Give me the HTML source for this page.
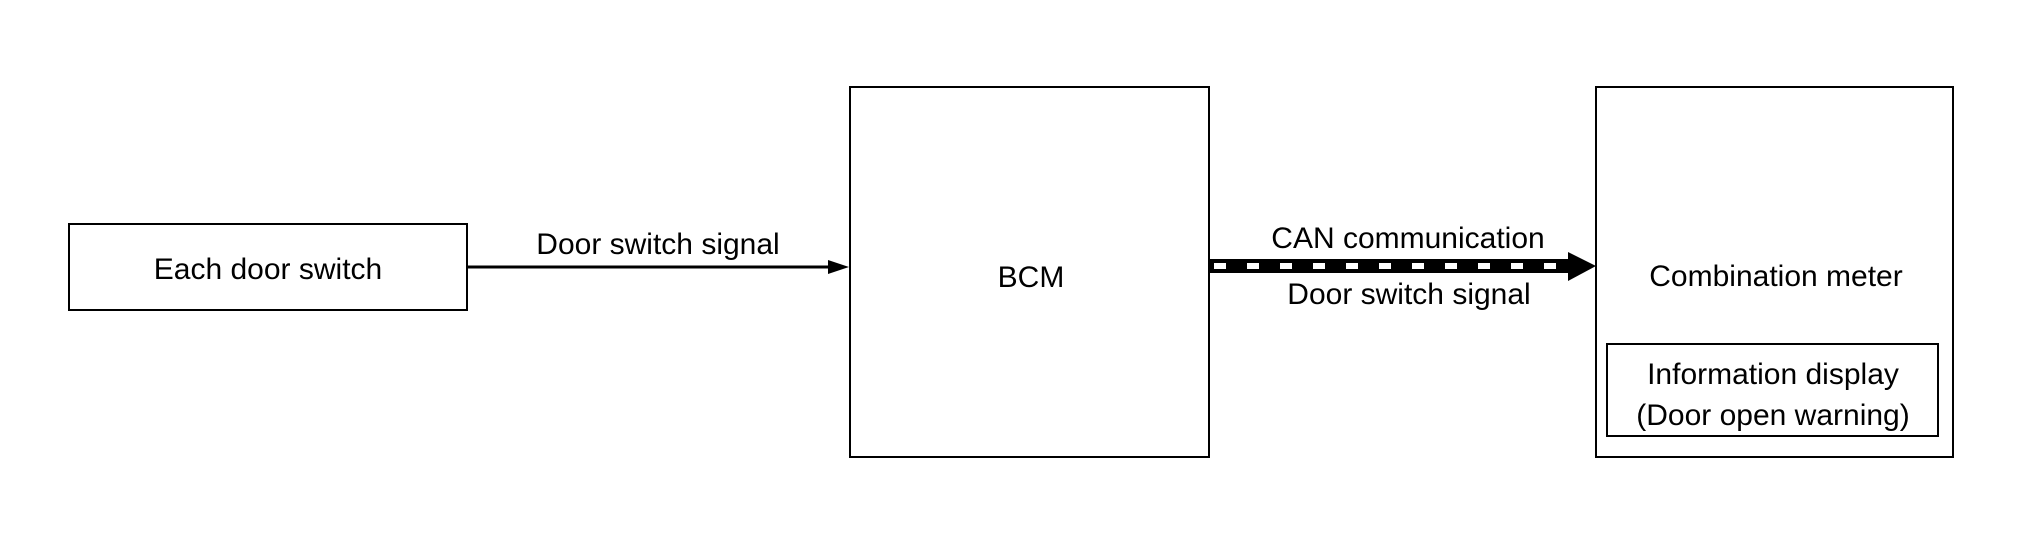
<!DOCTYPE html>
<html><head><meta charset="utf-8"><style>
html,body{margin:0;padding:0;background:#fff;}
svg{display:block;}
text{font-family:"Liberation Sans",Arial,sans-serif;fill:#000;}
</style></head><body>
<svg width="2021" height="545" viewBox="0 0 2021 545" xmlns="http://www.w3.org/2000/svg">
<g fill="none" stroke="#000" stroke-width="2">
<rect x="69" y="224" width="398" height="86"/>
<rect x="850" y="87" width="359" height="370"/>
<rect x="1596" y="87" width="357" height="370"/>
<rect x="1607" y="344" width="331" height="92"/>
</g>
<line x1="467" y1="267" x2="830" y2="267" stroke="#000" stroke-width="3"/>
<polygon points="828,260 849,267 828,274" fill="#000"/>
<rect x="1210" y="259" width="360" height="14" fill="#000"/>
<g fill="#fff">
<rect x="1214" y="263" width="12" height="6"/>
<rect x="1247" y="263" width="12" height="6"/>
<rect x="1280" y="263" width="12" height="6"/>
<rect x="1313" y="263" width="12" height="6"/>
<rect x="1346" y="263" width="12" height="6"/>
<rect x="1379" y="263" width="12" height="6"/>
<rect x="1412" y="263" width="12" height="6"/>
<rect x="1445" y="263" width="12" height="6"/>
<rect x="1478" y="263" width="12" height="6"/>
<rect x="1511" y="263" width="12" height="6"/>
<rect x="1544" y="263" width="12" height="6"/>
</g>
<polygon points="1568,252 1596,266 1568,281" fill="#000"/>
<g font-size="30" text-anchor="middle">
<text x="268" y="279">Each door switch</text>
<text x="658" y="254">Door switch signal</text>
<text x="1031" y="287">BCM</text>
<text x="1408" y="248">CAN communication</text>
<text x="1409" y="304">Door switch signal</text>
<text x="1776" y="286">Combination meter</text>
<text x="1773" y="384">Information display</text>
<text x="1773" y="425">(Door open warning)</text>
</g>
</svg>
</body></html>
